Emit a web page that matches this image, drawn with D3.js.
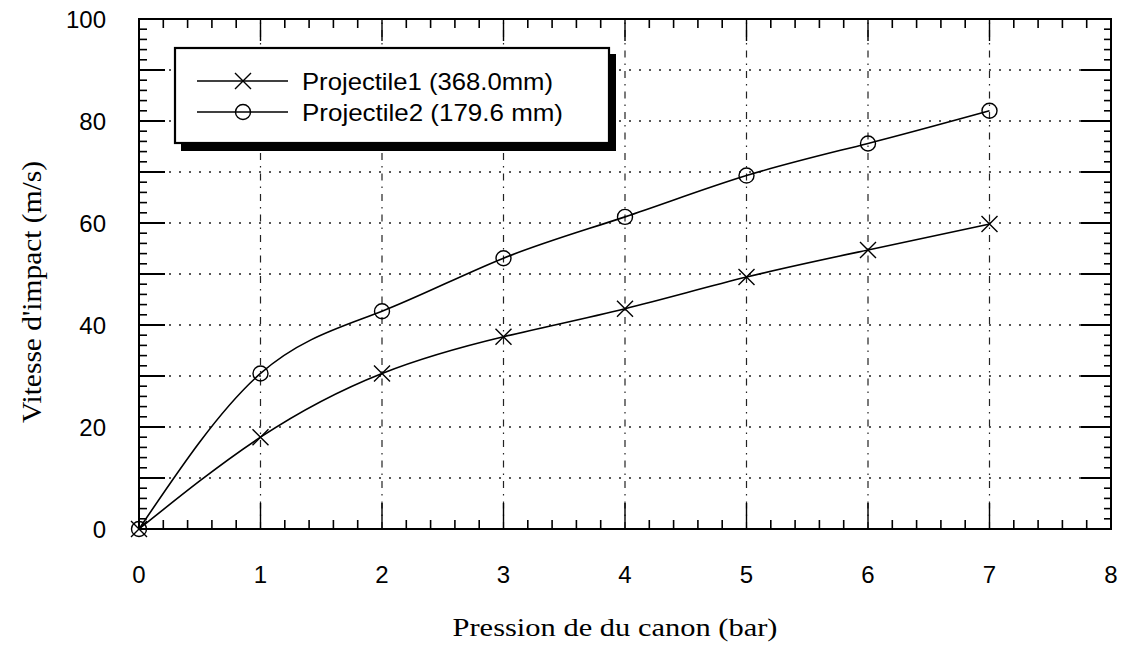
<!DOCTYPE html>
<html><head><meta charset="utf-8">
<script src="https://cdn.jsdelivr.net/npm/d3@7"></script>
<style>body{margin:0;background:#fff}svg{display:block}</style>
</head><body>
<svg id="c" width="1127" height="659"></svg>
<script>
const pressure = [0, 1, 2, 3, 4, 5, 6, 7];
const proj1 = [0, 18, 30.5, 37.7, 43.2, 49.4, 54.7, 59.8];
const proj2 = [0, 30.5, 42.7, 53.1, 61.2, 69.3, 75.6, 82];
const seriesNames = ["Projectile1 (368.0mm)", "Projectile2 (179.6 mm)"];
const xTicks = [0, 1, 2, 3, 4, 5, 6, 7, 8];
const yTicks = [0, 20, 40, 60, 80, 100];
const xTitle = "Pression de du canon (bar)";
const yTitle = "Vitesse d'impact (m/s)";

const svg = d3.select("#c");
const x = d3.scaleLinear().domain([0, 8]).range([139, 1111]);
const y = d3.scaleLinear().domain([0, 100]).range([529, 19]);
const [x0, x1] = x.range();
const [y0, y1] = y.range();

// grid
const g = svg.append("g");
g.selectAll(".hg").data(d3.range(10, 100, 10)).join("line")
  .attr("x1", x0).attr("x2", x1).attr("y1", d => y(d)).attr("y2", d => y(d))
  .attr("stroke", "#222").attr("stroke-width", 1.3).attr("stroke-dasharray", "2,8");
g.selectAll(".vg").data(d3.range(1, 8)).join("line")
  .attr("y1", y0).attr("y2", y1).attr("x1", d => x(d)).attr("x2", d => x(d))
  .attr("stroke", "#222").attr("stroke-width", 1.2).attr("stroke-dasharray", "7,6,1.5,6");

// ticks: y minor every 2, major every 10
const yMinor = d3.range(0, 101, 2);
const tk = svg.append("g").attr("stroke", "#000");
yMinor.forEach(v => {
  const len = v % 10 === 0 ? 26 : 8;
  tk.append("line").attr("x1", x0).attr("x2", x0 + len).attr("y1", y(v)).attr("y2", y(v)).attr("stroke-width", v % 10 === 0 ? 2 : 1.6);
  tk.append("line").attr("x1", x1).attr("x2", x1 - (v % 10 === 0 ? 30 : 7)).attr("y1", y(v)).attr("y2", y(v)).attr("stroke-width", v % 10 === 0 ? 2 : 1.6);
});
const xMinor = d3.range(0, 8.001, 0.2);
xMinor.forEach(v => {
  const major = Math.abs(v - Math.round(v)) < 1e-6;
  tk.append("line").attr("x1", x(v)).attr("x2", x(v)).attr("y1", y0).attr("y2", y0 - (major ? 26 : 9)).attr("stroke-width", major ? 1.4 : 1.6);
  tk.append("line").attr("x1", x(v)).attr("x2", x(v)).attr("y1", y1).attr("y2", y1 + (major ? 22 : 9)).attr("stroke-width", major ? 1.4 : 1.6);
});

// frame
svg.append("rect").attr("x", x0).attr("y", y1).attr("width", x1 - x0).attr("height", y0 - y1)
  .attr("fill", "none").attr("stroke", "#000").attr("stroke-width", 2);

// tick labels
svg.append("g").selectAll("text").data(yTicks).join("text")
  .attr("x", 106).attr("y", d => y(d)).attr("dy", "0.36em").attr("text-anchor", "end")
  .attr("font-family", "Liberation Sans, Arial, sans-serif").attr("font-size", 24).text(d => d);
svg.append("g").selectAll("text").data(xTicks).join("text")
  .attr("x", d => x(d)).attr("y", 574).attr("dy", "0.36em").attr("text-anchor", "middle")
  .attr("font-family", "Liberation Sans, Arial, sans-serif").attr("font-size", 24).text(d => d);

// axis titles
svg.append("text").attr("x", 615).attr("y", 636).attr("text-anchor", "middle")
  .attr("font-family", "Liberation Serif, Times New Roman, serif").attr("font-size", 26)
  .attr("textLength", 325).attr("lengthAdjust", "spacingAndGlyphs").text(xTitle);
svg.append("text").attr("transform", "translate(41,292) rotate(-90)").attr("text-anchor", "middle")
  .attr("font-family", "Liberation Serif, Times New Roman, serif").attr("font-size", 27)
  .attr("textLength", 262).attr("lengthAdjust", "spacingAndGlyphs").text(yTitle);

// series
const line = d3.line().x(d => x(d[0])).y(d => y(d[1])).curve(d3.curveNatural);
const s1 = pressure.map((p, i) => [p, proj1[i]]);
const s2 = pressure.map((p, i) => [p, proj2[i]]);
[s1, s2].forEach(s => svg.append("path").datum(s).attr("d", line)
  .attr("fill", "none").attr("stroke", "#000").attr("stroke-width", 1.6));

function cross(sel, cx, cy, r) {
  sel.append("path").attr("d", `M${cx - r},${cy - r}L${cx + r},${cy + r}M${cx - r},${cy + r}L${cx + r},${cy - r}`)
    .attr("stroke", "#000").attr("stroke-width", 1.4).attr("fill", "none");
}
function circ(sel, cx, cy, r) {
  sel.append("circle").attr("cx", cx).attr("cy", cy).attr("r", r)
    .attr("stroke", "#000").attr("stroke-width", 1.4).attr("fill", "none");
}
const mk = svg.append("g");
s1.forEach(d => cross(mk, x(d[0]), y(d[1]), 8));
s2.forEach(d => circ(mk, x(d[0]), y(d[1]), 7.5));

// legend
const lg = svg.append("g");
lg.append("rect").attr("x", 181).attr("y", 54).attr("width", 435).attr("height", 97).attr("fill", "#000");
lg.append("rect").attr("x", 175).attr("y", 48).attr("width", 434).attr("height", 95)
  .attr("fill", "#fff").attr("stroke", "#000").attr("stroke-width", 2.2);
const rows = [81, 112];
rows.forEach((ry, i) => {
  lg.append("line").attr("x1", 197).attr("x2", 288).attr("y1", ry).attr("y2", ry).attr("stroke", "#000").attr("stroke-width", 1.6);
  if (i === 0) cross(lg, 243, ry, 8); else circ(lg, 243, ry, 7.5);
  lg.append("text").attr("x", 302).attr("y", ry).attr("dy", "0.36em")
    .attr("font-family", "Liberation Sans, Arial, sans-serif").attr("font-size", 24)
    .attr("textLength", i === 0 ? 251 : 261).attr("lengthAdjust", "spacingAndGlyphs").text(seriesNames[i]);
});
</script>
</body></html>
